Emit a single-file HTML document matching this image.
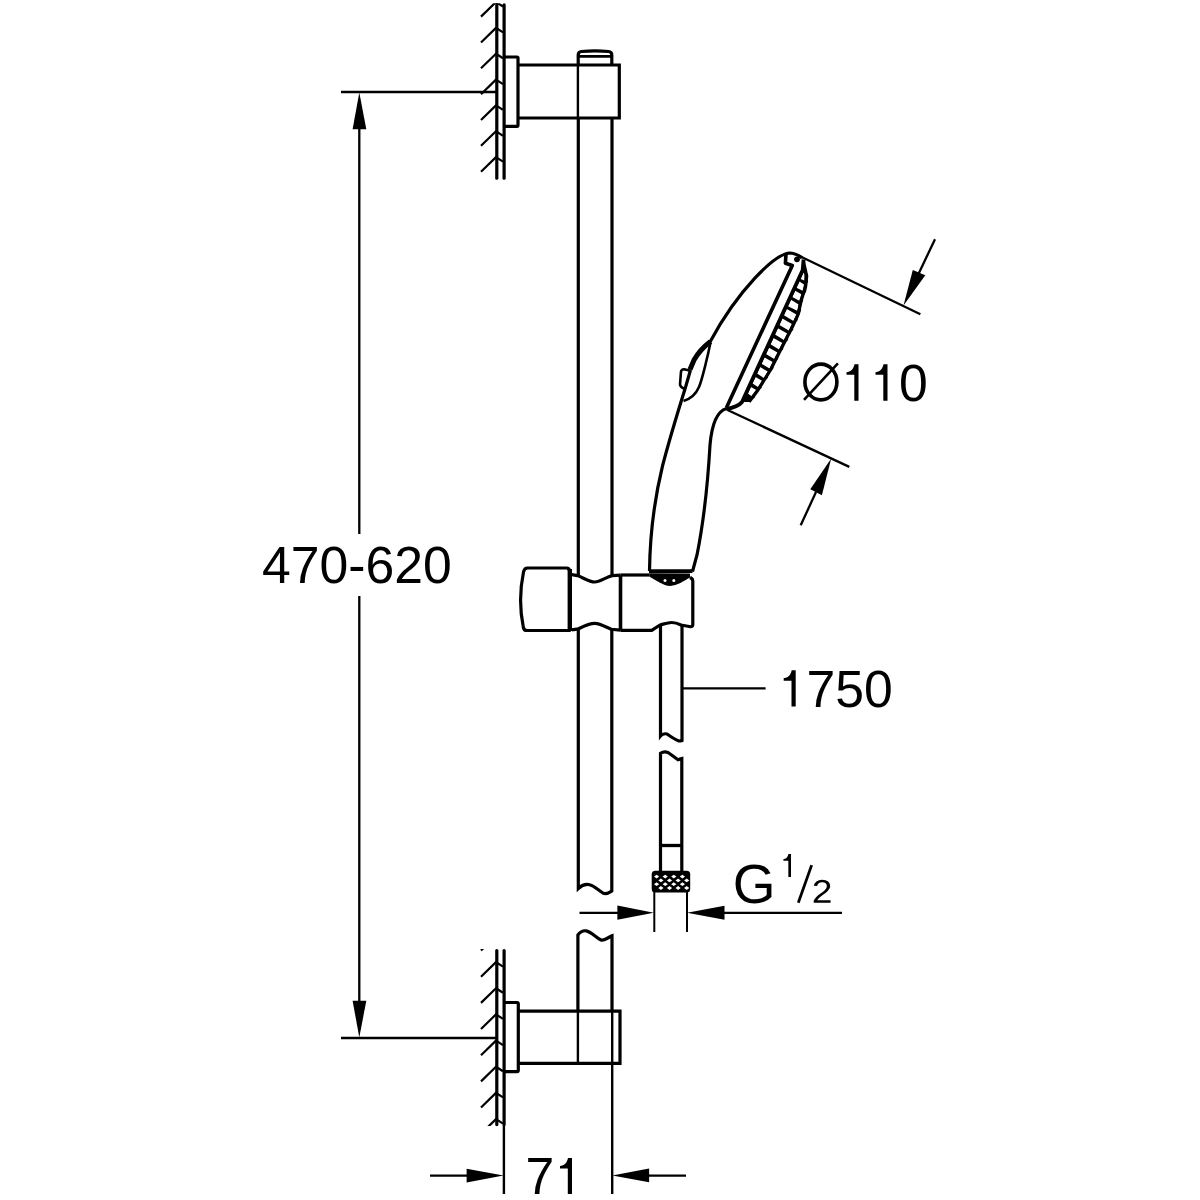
<!DOCTYPE html>
<html><head><meta charset="utf-8"><style>
html,body{margin:0;padding:0;background:#fff;}
svg{display:block;}
text{font-family:"Liberation Sans",sans-serif;fill:#000;}
</style></head><body>
<svg width="1200" height="1200" viewBox="0 0 1200 1200">
<g stroke="#000" fill="none" stroke-linecap="butt">
<clipPath id="cw1"><rect x="470" y="3.3" width="40" height="176.2"/></clipPath>
<line x1="496.8" y1="4.8" x2="496.8" y2="178.2" stroke-width="3.2" stroke-linecap="round"/>
<line x1="504.1" y1="4.8" x2="504.1" y2="178.2" stroke-width="3.2" stroke-linecap="round"/>
<g clip-path="url(#cw1)" stroke-width="2.2" stroke-linejoin="round"><polyline points="481,16.6 496,2.0 503,6.5" fill="none"/><polyline points="481,42.5 496,27.9 503,32.4" fill="none"/><polyline points="481,68.3 496,53.7 503,58.2" fill="none"/><polyline points="481,94.2 496,79.6 503,84.1" fill="none"/><polyline points="481,120.0 496,105.4 503,109.9" fill="none"/><polyline points="481,145.8 496,131.2 503,135.8" fill="none"/><polyline points="481,171.7 496,157.1 503,161.6" fill="none"/><polyline points="481,197.5 496,182.9 503,187.4" fill="none"/></g>
<clipPath id="cw2"><rect x="470" y="949" width="40" height="176.9000000000001"/></clipPath>
<line x1="496.8" y1="950.5" x2="496.8" y2="1124.6000000000001" stroke-width="3.2" stroke-linecap="round"/>
<line x1="504.1" y1="950.5" x2="504.1" y2="1124.6000000000001" stroke-width="3.2" stroke-linecap="round"/>
<g clip-path="url(#cw2)" stroke-width="2.2" stroke-linejoin="round"><polyline points="481,950.5 496,935.9 503,940.4" fill="none"/><polyline points="481,976.7 496,962.1 503,966.6" fill="none"/><polyline points="481,1002.9 496,988.3 503,992.8" fill="none"/><polyline points="481,1029.0 496,1014.4 503,1018.9" fill="none"/><polyline points="481,1055.2 496,1040.6 503,1045.1" fill="none"/><polyline points="481,1081.4 496,1066.8 503,1071.3" fill="none"/><polyline points="481,1107.5 496,1092.9 503,1097.4" fill="none"/><polyline points="481,1133.7 496,1119.1 503,1123.6" fill="none"/></g>
<path d="M504,57 H517 Q518,57 518,58 V125 Q518,126.3 517,126.3 H504" stroke-width="3.2"/>
<path d="M518,65 H619.3 V118 H518" stroke-width="3.2"/>
<path d="M578.2,65 V55 Q578.2,51.8 581.5,51.5 Q595,50.3 608.5,51.5 Q611.8,51.8 611.8,55 V65" stroke-width="3.2"/>
<line x1="578" y1="56.4" x2="612" y2="56.4" stroke-width="2.6"/>
<line x1="577.9" y1="65" x2="577.9" y2="118" stroke-width="2.4"/>
<line x1="578.3" y1="118" x2="578.3" y2="575" stroke-width="3.2"/>
<line x1="612" y1="118" x2="612" y2="575" stroke-width="3.2"/>
<path d="M578.3,630 V888.5 C582,885 586,884 589.5,884.7 C594,885.5 599,891 603.5,893.3 C606.5,894.5 609.5,892.5 611.8,891 V630" stroke-width="3.2"/>
<path d="M504,1002.5 H517 Q518.3,1002.5 518.3,1004 V1070.3 Q518.3,1071.7 517,1071.7 H504" stroke-width="3.2"/>
<path d="M518,1011.2 H620 V1063.3 H518" stroke-width="3.2"/>
<path d="M577.9,1011.2 V935 C580,932 583,930.5 586,930.8 C591,931.5 596,937.5 601,940 C604,941 608,937.5 612,935.8 V1011" stroke-width="3.2"/>
<line x1="577.9" y1="1011" x2="577.9" y2="1063.3" stroke-width="2.4"/>
<line x1="612.2" y1="1011" x2="612.2" y2="1194" stroke-width="2.4"/>
<line x1="503.9" y1="1125" x2="503.9" y2="1194" stroke-width="2.4"/>
<path d="M527.5,568 H566.5 Q569.6,568 569.6,571.5 V630.5 H527 Q523.6,630.5 523.3,627 C519.8,610 519.8,590 523.5,572 Q524.3,568 527.5,568 Z" stroke-width="3.2" stroke-linejoin="round"/>
<line x1="569.8" y1="569" x2="569.8" y2="631" stroke-width="4.4"/>
<path d="M571.9,574.7 L577.4,575.6 C584,578 589,582 594.8,582 C600,582 606,577 612.2,575.6 L620.5,575.2" stroke-width="3.2"/>
<path d="M571.9,629.8 L578.3,628.9 C584,626 589,623.3 594.8,623.3 C600,623.3 606,627 611.3,629.3 L620.5,630.2" stroke-width="3.2"/>
<line x1="620.5" y1="575" x2="620.5" y2="630.5" stroke-width="3.6"/>
<path d="M620.5,575 H649.2" stroke-width="3.2"/>
<path d="M690,577.5 L691,578 Q692.8,579 692.8,581 V624.5 Q692.8,626.7 690.5,626.7 L681,625 C677,623 674,622.5 671.7,622.5 C668,622.5 664,624 660,625 L651.7,630.4 H620.5" stroke-width="3.2" stroke-linejoin="round"/>
<path d="M649.2,573.3 L690,573.6 L690,577.6 C684,581 677,585.9 670.3,585.9 C663,585.9 656,580 649.2,576.5 Z" fill="#000" stroke="none"/>
<circle cx="665" cy="580.6" r="1.5" fill="#fff" stroke="none"/><circle cx="673.8" cy="580.6" r="1.5" fill="#fff" stroke="none"/>
<line x1="649" y1="571.1" x2="692.5" y2="571.1" stroke-width="3.8"/>
<path d="M660.5,626 V736 Q663,733 667,734 Q674,739 679,741 Q681,741 682,740.5 V626" stroke-width="3.2"/>
<path d="M660.5,871 V753.3 Q664,751 668,752.5 Q673,756 678,759.7 Q680,759 681.8,758.5 V871" stroke-width="3.2"/>
<line x1="660" y1="845.5" x2="682" y2="845.5" stroke-width="3.3"/>
<rect x="651.7" y="870.8" width="38.5" height="21.6" rx="3.5" fill="#000" stroke="none"/>
<g fill="#fff" stroke="none"><path d="M654.0,876.6 L656.6,874.7 L659.2,876.6 L656.6,878.5 Z"/><path d="M662.6,876.6 L665.2,874.7 L667.8,876.6 L665.2,878.5 Z"/><path d="M671.2,876.6 L673.8,874.7 L676.4,876.6 L673.8,878.5 Z"/><path d="M679.8,876.6 L682.4,874.7 L685.0,876.6 L682.4,878.5 Z"/><path d="M658.3,880.4 L660.9,878.5 L663.5,880.4 L660.9,882.3 Z"/><path d="M666.9,880.4 L669.5,878.5 L672.1,880.4 L669.5,882.3 Z"/><path d="M675.5,880.4 L678.1,878.5 L680.7,880.4 L678.1,882.3 Z"/><path d="M684.1,880.4 L686.7,878.5 L689.3,880.4 L686.7,882.3 Z"/><path d="M654.0,884.2 L656.6,882.3 L659.2,884.2 L656.6,886.1 Z"/><path d="M662.6,884.2 L665.2,882.3 L667.8,884.2 L665.2,886.1 Z"/><path d="M671.2,884.2 L673.8,882.3 L676.4,884.2 L673.8,886.1 Z"/><path d="M679.8,884.2 L682.4,882.3 L685.0,884.2 L682.4,886.1 Z"/><path d="M658.3,888.0 L660.9,886.1 L663.5,888.0 L660.9,889.9 Z"/><path d="M666.9,888.0 L669.5,886.1 L672.1,888.0 L669.5,889.9 Z"/><path d="M675.5,888.0 L678.1,886.1 L680.7,888.0 L678.1,889.9 Z"/><path d="M684.1,888.0 L686.7,886.1 L689.3,888.0 L686.7,889.9 Z"/></g>
<line x1="654.3" y1="892" x2="654.3" y2="932" stroke-width="2"/>
<line x1="687" y1="892" x2="687" y2="932" stroke-width="2"/>
<line x1="579.5" y1="912.8" x2="640" y2="912.8" stroke-width="2.3"/>
<path d="M653.8,912.8 L617.4,905.6 V919.8 Z" fill="#000" stroke="none"/>
<line x1="700" y1="912.9" x2="842" y2="912.9" stroke-width="2.3"/>
<path d="M687,912.8 L724.5,905.8 V919.8 Z" fill="#000" stroke="none"/>
<line x1="341" y1="92" x2="497" y2="92" stroke-width="2.4"/>
<line x1="341" y1="1038" x2="497" y2="1038" stroke-width="2.4"/>
<line x1="359.3" y1="110" x2="359.3" y2="534" stroke-width="2.3"/>
<line x1="359.3" y1="596" x2="359.3" y2="1020" stroke-width="2.3"/>
<path d="M359.3,92.5 L352.6,129.3 H366.3 Z" fill="#000" stroke="none"/>
<path d="M359.3,1037.5 L352.6,1000.7 H366.3 Z" fill="#000" stroke="none"/>
<line x1="430" y1="1175.7" x2="480" y2="1175.7" stroke-width="2.3"/>
<path d="M503.5,1175.6 L466.6,1168.7 V1182.5 Z" fill="#000" stroke="none"/>
<line x1="630" y1="1175.7" x2="686" y2="1175.7" stroke-width="2.3"/>
<path d="M612.3,1175.5 L649.1,1168.6 V1182.2 Z" fill="#000" stroke="none"/>
<path d="M802,258 Q797,253.5 790,253 C775,253.5 738,290 710,342" stroke-width="3.2"/>
<path d="M690.5,370 L685,389 C680,405 670,437 662.5,466 C655,497 650,530 649.5,571" stroke-width="3.2"/>
<path d="M710.5,341.5 C704,346.5 698,353 694,360 L690,369.5" stroke-width="5"/>
<path d="M690.5,370.8 L684,369.3 Q681.5,369.5 681,371.5 L680,384.5 Q680.5,387.5 685,389" stroke-width="2.6" stroke-linejoin="round"/>
<path d="M710.5,342.5 C708,355 702,380 699,387 C696,394 690,399 683.5,401" stroke-width="2.6"/>
<path d="M726.5,408.5 C718,411 712,422 710,445 C708,480 704,520 697,555 L692.5,571.5" stroke-width="3.2"/>
<path d="M786,253.8 L785.4,263.3 L792.3,265.5 L726.5,407.5" stroke-width="3.6" stroke-linejoin="round"/>
<polygon points="803.5,262.0 804.0,264.0 804.4,266.0 804.9,268.0 805.3,270.0 805.8,272.0 806.2,274.0 806.7,276.0 806.5,278.0 806.3,280.0 806.1,282.0 805.9,284.0 805.7,286.0 805.3,288.0 804.7,290.0 804.0,292.0 803.3,294.0 802.6,296.0 802.0,298.0 801.3,300.0 800.9,302.0 800.5,304.0 800.0,306.0 799.6,308.0 799.2,310.0 798.8,312.0 798.3,314.0 797.5,316.0 796.5,318.0 795.6,320.0 794.6,322.0 793.7,324.0 792.8,326.0 791.8,328.0 790.8,330.0 789.8,332.0 788.8,334.0 787.7,336.0 786.7,338.0 785.7,340.0 784.7,342.0 783.6,344.0 782.6,346.0 781.6,348.0 780.6,350.0 779.5,352.0 778.5,354.0 777.5,356.0 776.5,358.0 775.5,360.0 774.5,362.0 773.5,364.0 772.5,366.0 771.5,368.0 770.5,370.0 769.2,372.0 768.0,374.0 766.8,376.0 765.5,378.0 764.2,380.0 763.0,382.0 761.8,384.0 760.5,386.0 759.2,388.0 758.0,390.0 756.5,392.0 755.0,394.0 753.5,396.0 752.0,398.0 750.5,400.0 749.2,402.0 742.0,402.0 742.9,400.0 743.8,398.0 744.8,396.0 745.7,394.0 746.6,392.0 747.5,390.0 748.4,388.0 749.4,386.0 750.3,384.0 751.2,382.0 752.1,380.0 753.0,378.0 754.0,376.0 754.9,374.0 755.8,372.0 756.7,370.0 757.6,368.0 758.6,366.0 759.5,364.0 760.4,362.0 761.3,360.0 762.2,358.0 763.2,356.0 764.1,354.0 765.0,352.0 765.9,350.0 766.8,348.0 767.8,346.0 768.7,344.0 769.6,342.0 770.5,340.0 771.4,338.0 772.4,336.0 773.3,334.0 774.2,332.0 775.1,330.0 776.0,328.0 776.9,326.0 777.9,324.0 778.8,322.0 779.7,320.0 780.6,318.0 781.5,316.0 782.5,314.0 783.4,312.0 784.3,310.0 785.2,308.0 786.1,306.0 787.1,304.0 788.0,302.0 788.9,300.0 789.8,298.0 790.7,296.0 791.7,294.0 792.6,292.0 793.5,290.0 794.4,288.0 795.3,286.0 796.3,284.0 797.2,282.0 798.1,280.0 799.0,278.0 799.9,276.0 800.9,274.0 801.8,272.0 802.7,270.0 802.9,268.0 803.1,266.0 803.2,264.0 803.4,262.0" fill="#000" stroke="none"/>
<g fill="#000" stroke="none"><circle cx="805.9" cy="281.3" r="2.1"/><circle cx="804.2" cy="290.9" r="2.1"/><circle cx="801.0" cy="300.5" r="2.1"/><circle cx="799.0" cy="310.1" r="2.1"/><circle cx="795.5" cy="319.7" r="2.1"/><circle cx="791.0" cy="329.3" r="2.1"/><circle cx="786.1" cy="338.9" r="2.1"/><circle cx="781.1" cy="348.5" r="2.1"/><circle cx="776.2" cy="358.1" r="2.1"/><circle cx="771.4" cy="367.7" r="2.1"/><circle cx="765.7" cy="377.3" r="2.1"/><circle cx="759.7" cy="386.9" r="2.1"/><circle cx="752.9" cy="396.5" r="2.1"/></g>
<g fill="#fff" stroke="none"><polygon points="803.5,272.6 804.4,274.0 804.4,280.4 800.6,279.0"/><polygon points="799.5,281.4 804.0,284.4 802.6,290.8 796.5,287.8"/><polygon points="795.2,290.7 801.4,294.3 799.3,300.7 792.3,297.1"/><polygon points="791.0,299.8 798.6,304.4 797.2,310.8 788.0,306.2"/><polygon points="786.8,308.9 796.4,314.5 793.4,320.9 783.9,315.3"/><polygon points="782.4,318.6 791.9,324.0 788.8,330.4 779.4,325.0"/><polygon points="777.9,328.2 787.2,333.6 783.9,340.0 775.0,334.6"/><polygon points="773.5,337.9 782.3,343.1 779.0,349.5 770.5,344.3"/><polygon points="769.0,347.7 777.5,352.5 774.2,358.9 766.0,354.1"/><polygon points="764.5,357.4 772.7,362.0 769.5,368.4 761.6,363.8"/><polygon points="760.0,367.1 767.8,371.5 763.8,377.9 757.1,373.5"/><polygon points="755.5,377.1 762.0,380.7 758.0,387.1 752.5,383.5"/><polygon points="750.9,387.1 756.3,389.9 751.5,396.3 747.9,393.5"/></g>
<path d="M803.6,259.5 L802.7,270 L742,402 Q738,407 726,409" stroke-width="3.8" stroke-linejoin="round"/>
<polyline points="803.5,262.0 804.0,264.0 804.4,266.0 804.9,268.0 805.3,270.0 805.8,272.0 806.2,274.0 806.7,276.0 806.5,278.0 806.3,280.0 806.1,282.0 805.9,284.0 805.7,286.0 805.3,288.0 804.7,290.0 804.0,292.0 803.3,294.0 802.6,296.0 802.0,298.0 801.3,300.0 800.9,302.0 800.5,304.0 800.0,306.0 799.6,308.0 799.2,310.0 798.8,312.0 798.3,314.0 797.5,316.0 796.5,318.0 795.6,320.0 794.6,322.0 793.7,324.0 792.8,326.0 791.8,328.0 790.8,330.0 789.8,332.0 788.8,334.0 787.7,336.0 786.7,338.0 785.7,340.0 784.7,342.0 783.6,344.0 782.6,346.0 781.6,348.0 780.6,350.0 779.5,352.0 778.5,354.0 777.5,356.0 776.5,358.0 775.5,360.0 774.5,362.0 773.5,364.0 772.5,366.0 771.5,368.0 770.5,370.0 769.2,372.0 768.0,374.0 766.8,376.0 765.5,378.0 764.2,380.0 763.0,382.0 761.8,384.0 760.5,386.0 759.2,388.0 758.0,390.0 756.5,392.0 755.0,394.0 753.5,396.0 752.0,398.0 750.5,400.0 749.2,402.0" stroke-width="3.2" stroke-linejoin="round"/>
<circle cx="797" cy="259.3" r="2.9" fill="#000" stroke="none"/>
<line x1="800" y1="256.2" x2="920.4" y2="314.3" stroke-width="2.3"/>
<line x1="727.5" y1="410" x2="849.3" y2="466.9" stroke-width="2.3"/>
<line x1="935" y1="239.2" x2="918" y2="275" stroke-width="2.3"/>
<path d="M903.5,305.5 L912.8,270 L925.3,275.2 Z" fill="#000" stroke="none"/>
<line x1="800.7" y1="525.3" x2="816" y2="492" stroke-width="2.3"/>
<path d="M831.2,458.5 L810.3,489.3 L821.9,495.2 Z" fill="#000" stroke="none"/>
<line x1="682" y1="688.3" x2="765.6" y2="688.3" stroke-width="2.3"/>
</g>

<text x="262" y="583.3" font-size="51.7">470-620</text>
<text x="806.5" y="706.5" font-size="51.7">750</text>
<text x="899" y="401" font-size="51.7">0</text>
<text x="525.5" y="1194" font-size="51.7">7</text>
<text x="732.7" y="903.3" font-size="55">G</text>
<path transform="translate(811.8,902.8) scale(0.018125,-0.016094)" fill="#000" d="M103 0V127Q154 244 227.5 333.5Q301 423 382.0 495.5Q463 568 542.5 630.0Q622 692 686.0 754.0Q750 816 789.5 884.0Q829 952 829 1038Q829 1154 761.0 1218.0Q693 1282 572 1282Q457 1282 382.5 1219.5Q308 1157 295 1044L111 1061Q131 1230 254.5 1330.0Q378 1430 572 1430Q785 1430 899.5 1329.5Q1014 1229 1014 1044Q1014 962 976.5 881.0Q939 800 865.0 719.0Q791 638 582 468Q467 374 399.0 298.5Q331 223 301 153H1036V0Z"/>
<g stroke="none" fill="#000">
<path d="M858.50,364.25 V400.75 H854.30 V374.85 H846.50 V372.15 C850.50,372.15 853.50,369.25 854.50,364.25 Z"/>
<path d="M887.50,364.25 V400.75 H883.30 V374.85 H875.50 V372.15 C879.50,372.15 882.50,369.25 883.50,364.25 Z"/>
<path d="M795.70,670.20 V706.50 H791.50 V680.80 H783.70 V678.10 C787.70,678.10 790.70,675.20 791.70,670.20 Z"/>
<path d="M572.00,1158.00 V1194.00 H567.80 V1168.60 H560.00 V1165.90 C564.00,1165.90 567.00,1163.00 568.00,1158.00 Z"/>
<path d="M791.00,854.10 V877.10 H788.35 V860.78 H783.44 V859.08 C785.96,859.08 787.85,857.25 788.48,854.10 Z"/>
</g>
<line x1="798.3" y1="902.75" x2="811.65" y2="865.1" stroke="#000" stroke-width="2.8"/>
<ellipse cx="820.9" cy="382" rx="16" ry="17.9" fill="none" stroke="#000" stroke-width="3.6"/>
<line x1="804" y1="399.8" x2="837.9" y2="363.3" stroke="#000" stroke-width="2.6"/>

</svg>
</body></html>
